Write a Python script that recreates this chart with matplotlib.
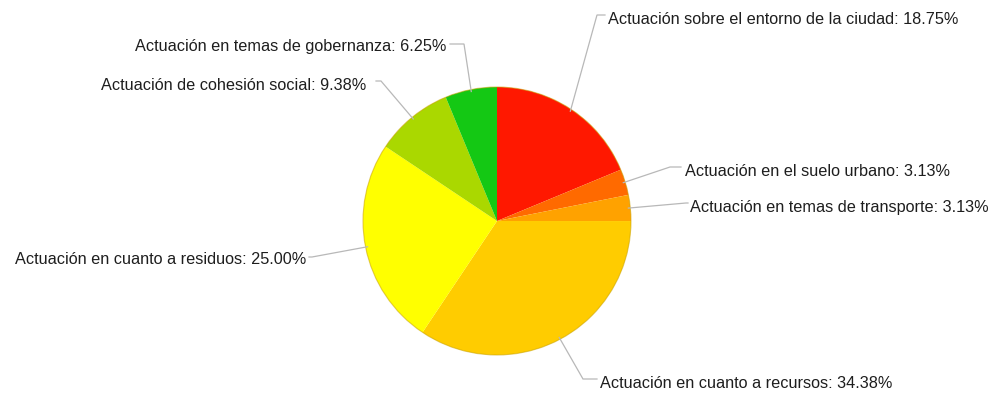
import numpy as np
import matplotlib
matplotlib.use("Agg")
import matplotlib.pyplot as plt
from matplotlib.patches import Circle

categories = [
    "Actuación sobre el entorno de la ciudad",
    "Actuación en el suelo urbano",
    "Actuación en temas de transporte",
    "Actuación en cuanto a recursos",
    "Actuación en cuanto a residuos",
    "Actuación de cohesión social",
    "Actuación en temas de gobernanza",
]
shares = [18.75, 3.13, 3.13, 34.38, 25.00, 9.38, 6.25]
colors = ["#ff1800", "#ff6a00", "#ffa200", "#ffcc00", "#ffff00", "#aad800", "#14c814"]

W, H = 995, 393
plt.rcParams["font.family"] = ["Liberation Sans", "DejaVu Sans"]

fig = plt.figure(figsize=(W / 100, H / 100), dpi=100)
ax = fig.add_axes([0, 0, 1, 1])
ax.set_xlim(0, W)
ax.set_ylim(0, H)
ax.axis("off")

cx, cy, r = 497, H - 221, 134
wedges, _ = ax.pie(shares, colors=colors, startangle=90, counterclock=False,
                   center=(cx, cy), radius=r, normalize=True,
                   wedgeprops=dict(linewidth=0.3, edgecolor="none"))
ax.add_patch(Circle((cx, cy), r, fill=False, edgecolor="#c9a200", lw=0.8, alpha=0.55))
ax.set_xlim(0, W)
ax.set_ylim(0, H)
ax.set_aspect("equal")

# label layout: elbow point, line end, text anchor (pixel coords, y down), alignment
layout = [
    ((597, 15), (605, 15), (608, 19), "left"),
    ((670, 167), (681, 167), (685, 172), "left"),
    ((686, 203), (688, 203), (690, 208), "left"),
    ((583, 379), (597, 379), (600, 383), "left"),
    ((312, 257), (309, 257), (306, 259), "right"),
    ((381, 81), (376, 81), (366, 85), "right"),
    ((464, 44), (450, 44), (446, 47), "right"),
]

for w, name, val, (elbow, end, txt, ha) in zip(wedges, categories, shares, layout):
    mid = np.deg2rad((w.theta1 + w.theta2) / 2)
    x0 = cx + (r - 2) * np.cos(mid)
    y0 = cy + (r - 2) * np.sin(mid)
    xs = [x0, elbow[0], end[0]]
    ys = [y0, H - elbow[1], H - end[1]]
    ax.plot(xs, ys, color="#b8b8b8", lw=0.9, solid_joinstyle="miter")
    ax.text(txt[0], H - txt[1], f"{name}: {val:.2f}%", ha=ha, va="center",
            fontsize=11.7, color="#1e1e1e")

fig.savefig("out.png", dpi=100)
